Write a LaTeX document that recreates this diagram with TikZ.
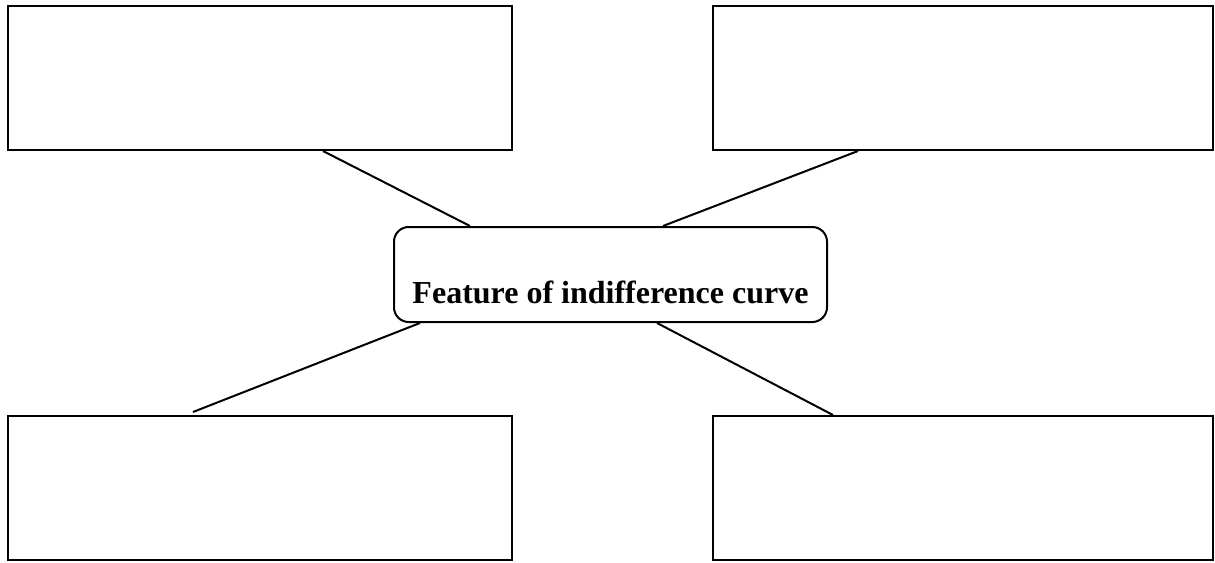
\documentclass[tikz,border=0pt]{standalone}
\usepackage{fontspec}
\setmainfont{Liberation Serif}
\usetikzlibrary{calc}
\tikzset{
  featbox/.style={draw, line width=1.5pt, rounded corners=11pt, inner sep=0pt,
    minimum width=324.75pt, font=\fontsize{24}{28}\selectfont\bfseries},
  emptybox/.style={draw, line width=1.5pt, inner sep=0pt, minimum height=108pt}
}
\begin{document}
\begin{tikzpicture}[x=0.75pt,y=-0.75pt]
      \useasboundingbox (0,0) rectangle (1215,562);
      \node[emptybox, minimum width=378pt] (tl) at (260,78) {};
      \node[emptybox, minimum width=375pt] (tr) at (963,78) {};
      \node[emptybox, minimum width=378pt] (bl) at (260,488) {};
      \node[emptybox, minimum width=375pt] (br) at (963,488) {};
      \node[featbox, text height=57pt, text depth=14.25pt, anchor=base]
        (feat) at (610.5,303) {Feature of indifference curve};
      \begin{scope}[line width=1.5pt]
        \draw ($(tl.south)+(63,0)$) -- ($(feat.north)+(-140.5,0)$);
        \draw ($(tr.south)+(-105,0)$) -- ($(feat.north)+(52.5,0)$);
        \draw ($(feat.south)+(-190.5,0)$) -- ($(bl.north)+(-67,-3)$);
        \draw ($(feat.south)+(46.5,0)$) -- ($(br.north)+(-130,0)$);
      \end{scope}
    \end{tikzpicture}
\end{document}
